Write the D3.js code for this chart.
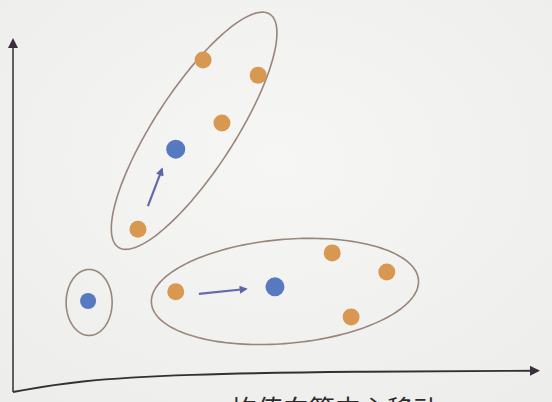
<!DOCTYPE html>
<html><head><meta charset="utf-8">
<script src="https://cdn.jsdelivr.net/npm/d3@7"></script>
<style>html,body{margin:0;padding:0;background:#f3f3f1;overflow:hidden}</style>
</head><body>
<script>
// ---- data (abstract units: x 0..10, y 0..10) ----
const orangeX = [3.62, 4.67, 3.98, 2.38, 3.10, 6.08, 7.12, 6.44];
const orangeY = [9.38, 8.95, 7.60, 4.60, 2.83, 3.93, 3.39, 2.12];
const blueX = [3.10, 4.99, 1.43];
const blueY = [6.86, 2.97, 2.57];
const arrowFromX = [2.57, 3.54];
const arrowFromY = [5.25, 2.77];
const arrowToX = [2.84, 4.44];
const arrowToY = [6.30, 2.91];
const clusterCX = [3.45, 5.18, 1.45];
const clusterCY = [7.38, 2.84, 2.53];
const caption = "均值向簇中心移动";

const W = 552, H = 402;
const x = d3.scaleLinear().domain([0, 10]).range([13, 538]);
const y = d3.scaleLinear().domain([0, 10]).range([392, 38]);

// cluster outline shapes (pixels)
const clusterStyle = [
  {a: 139, b: 40, rot: -57},
  {a: 134, b: 52, rot: -5},
  {a: 23, b: 33, rot: 0}
];

const svg = d3.select("body").append("svg").attr("width", W).attr("height", H);
const defs = svg.append("defs");
const grad = defs.append("radialGradient").attr("id", "paper").attr("cx", "50%").attr("cy", "40%").attr("r", "75%");
grad.append("stop").attr("offset", "0%").attr("stop-color", "#f6f6f4");
grad.append("stop").attr("offset", "100%").attr("stop-color", "#ededeb");
svg.append("rect").attr("width", W).attr("height", H).attr("fill", "url(#paper)");

defs.append("marker").attr("id", "axhead").attr("viewBox", "0 0 10 10")
  .attr("refX", 8).attr("refY", 5)
  .attr("orient", "auto").attr("markerUnits", "userSpaceOnUse")
  .attr("markerWidth", 10).attr("markerHeight", 10)
  .append("path").attr("d", "M0,0 L10,5 L0,10 z").attr("fill", "#3a2f3c");
defs.append("marker").attr("id", "bluehead").attr("viewBox", "0 0 10 10")
  .attr("refX", 8).attr("refY", 5)
  .attr("orient", "auto").attr("markerUnits", "userSpaceOnUse")
  .attr("markerWidth", 9).attr("markerHeight", 8)
  .append("path").attr("d", "M0,0 L10,5 L0,10 z").attr("fill", "#5d65a8");

// axes
svg.append("line").attr("x1", x(0)).attr("y1", y(0)).attr("x2", x(0)).attr("y2", y(10) + 2)
  .attr("stroke", "#3f3a3e").attr("stroke-width", 1.6).attr("marker-end", "url(#axhead)");
const axisPts = [[0, 0], [1.2, 0.32], [3.2, 0.5], [6.5, 0.58], [10, 0.6]];
svg.append("path")
  .attr("d", d3.line().x(d => x(d[0])).y(d => y(d[1])).curve(d3.curveBasis)(axisPts))
  .attr("fill", "none").attr("stroke", "#35302f").attr("stroke-width", 1.9)
  .attr("marker-end", "url(#axhead)");

// cluster outlines
const ellLine = d3.line().curve(d3.curveLinearClosed);
clusterCX.forEach((cx, i) => {
  const s = clusterStyle[i];
  const px = x(cx), py = y(clusterCY[i]);
  const r = s.rot * Math.PI / 180;
  const pts = d3.range(0, 2 * Math.PI, Math.PI / 90).map(t => {
    const ex = s.a * Math.cos(t), ey = s.b * Math.sin(t);
    return [px + ex * Math.cos(r) - ey * Math.sin(r), py + ex * Math.sin(r) + ey * Math.cos(r)];
  });
  svg.append("path").attr("d", ellLine(pts)).attr("fill", "none")
    .attr("stroke", "#9a857b").attr("stroke-width", 1.6);
});

// arrows
arrowFromX.forEach((fx, i) => {
  svg.append("line").attr("x1", x(fx)).attr("y1", y(arrowFromY[i]))
    .attr("x2", x(arrowToX[i])).attr("y2", y(arrowToY[i]))
    .attr("stroke", "#6469aa").attr("stroke-width", 2.2).attr("marker-end", "url(#bluehead)");
});

// points
svg.selectAll("circle.o").data(orangeX).join("circle").attr("class", "o")
  .attr("cx", (d, i) => x(d)).attr("cy", (d, i) => y(orangeY[i])).attr("r", 8.5)
  .attr("fill", "#d99852");
svg.selectAll("circle.b").data(blueX).join("circle").attr("class", "b")
  .attr("cx", (d, i) => x(d)).attr("cy", (d, i) => y(blueY[i])).attr("r", (d, i) => i === 2 ? 8 : 9.5)
  .attr("fill", "#5679c0");

// caption (cut off at the bottom edge, as in the reference photo)
svg.append("text").attr("x", 335).attr("y", 419).attr("text-anchor", "middle")
  .attr("font-family", "Noto Sans CJK SC").attr("font-size", 26).attr("fill", "#2e2a2c")
  .text(caption);
</script>
</body></html>
